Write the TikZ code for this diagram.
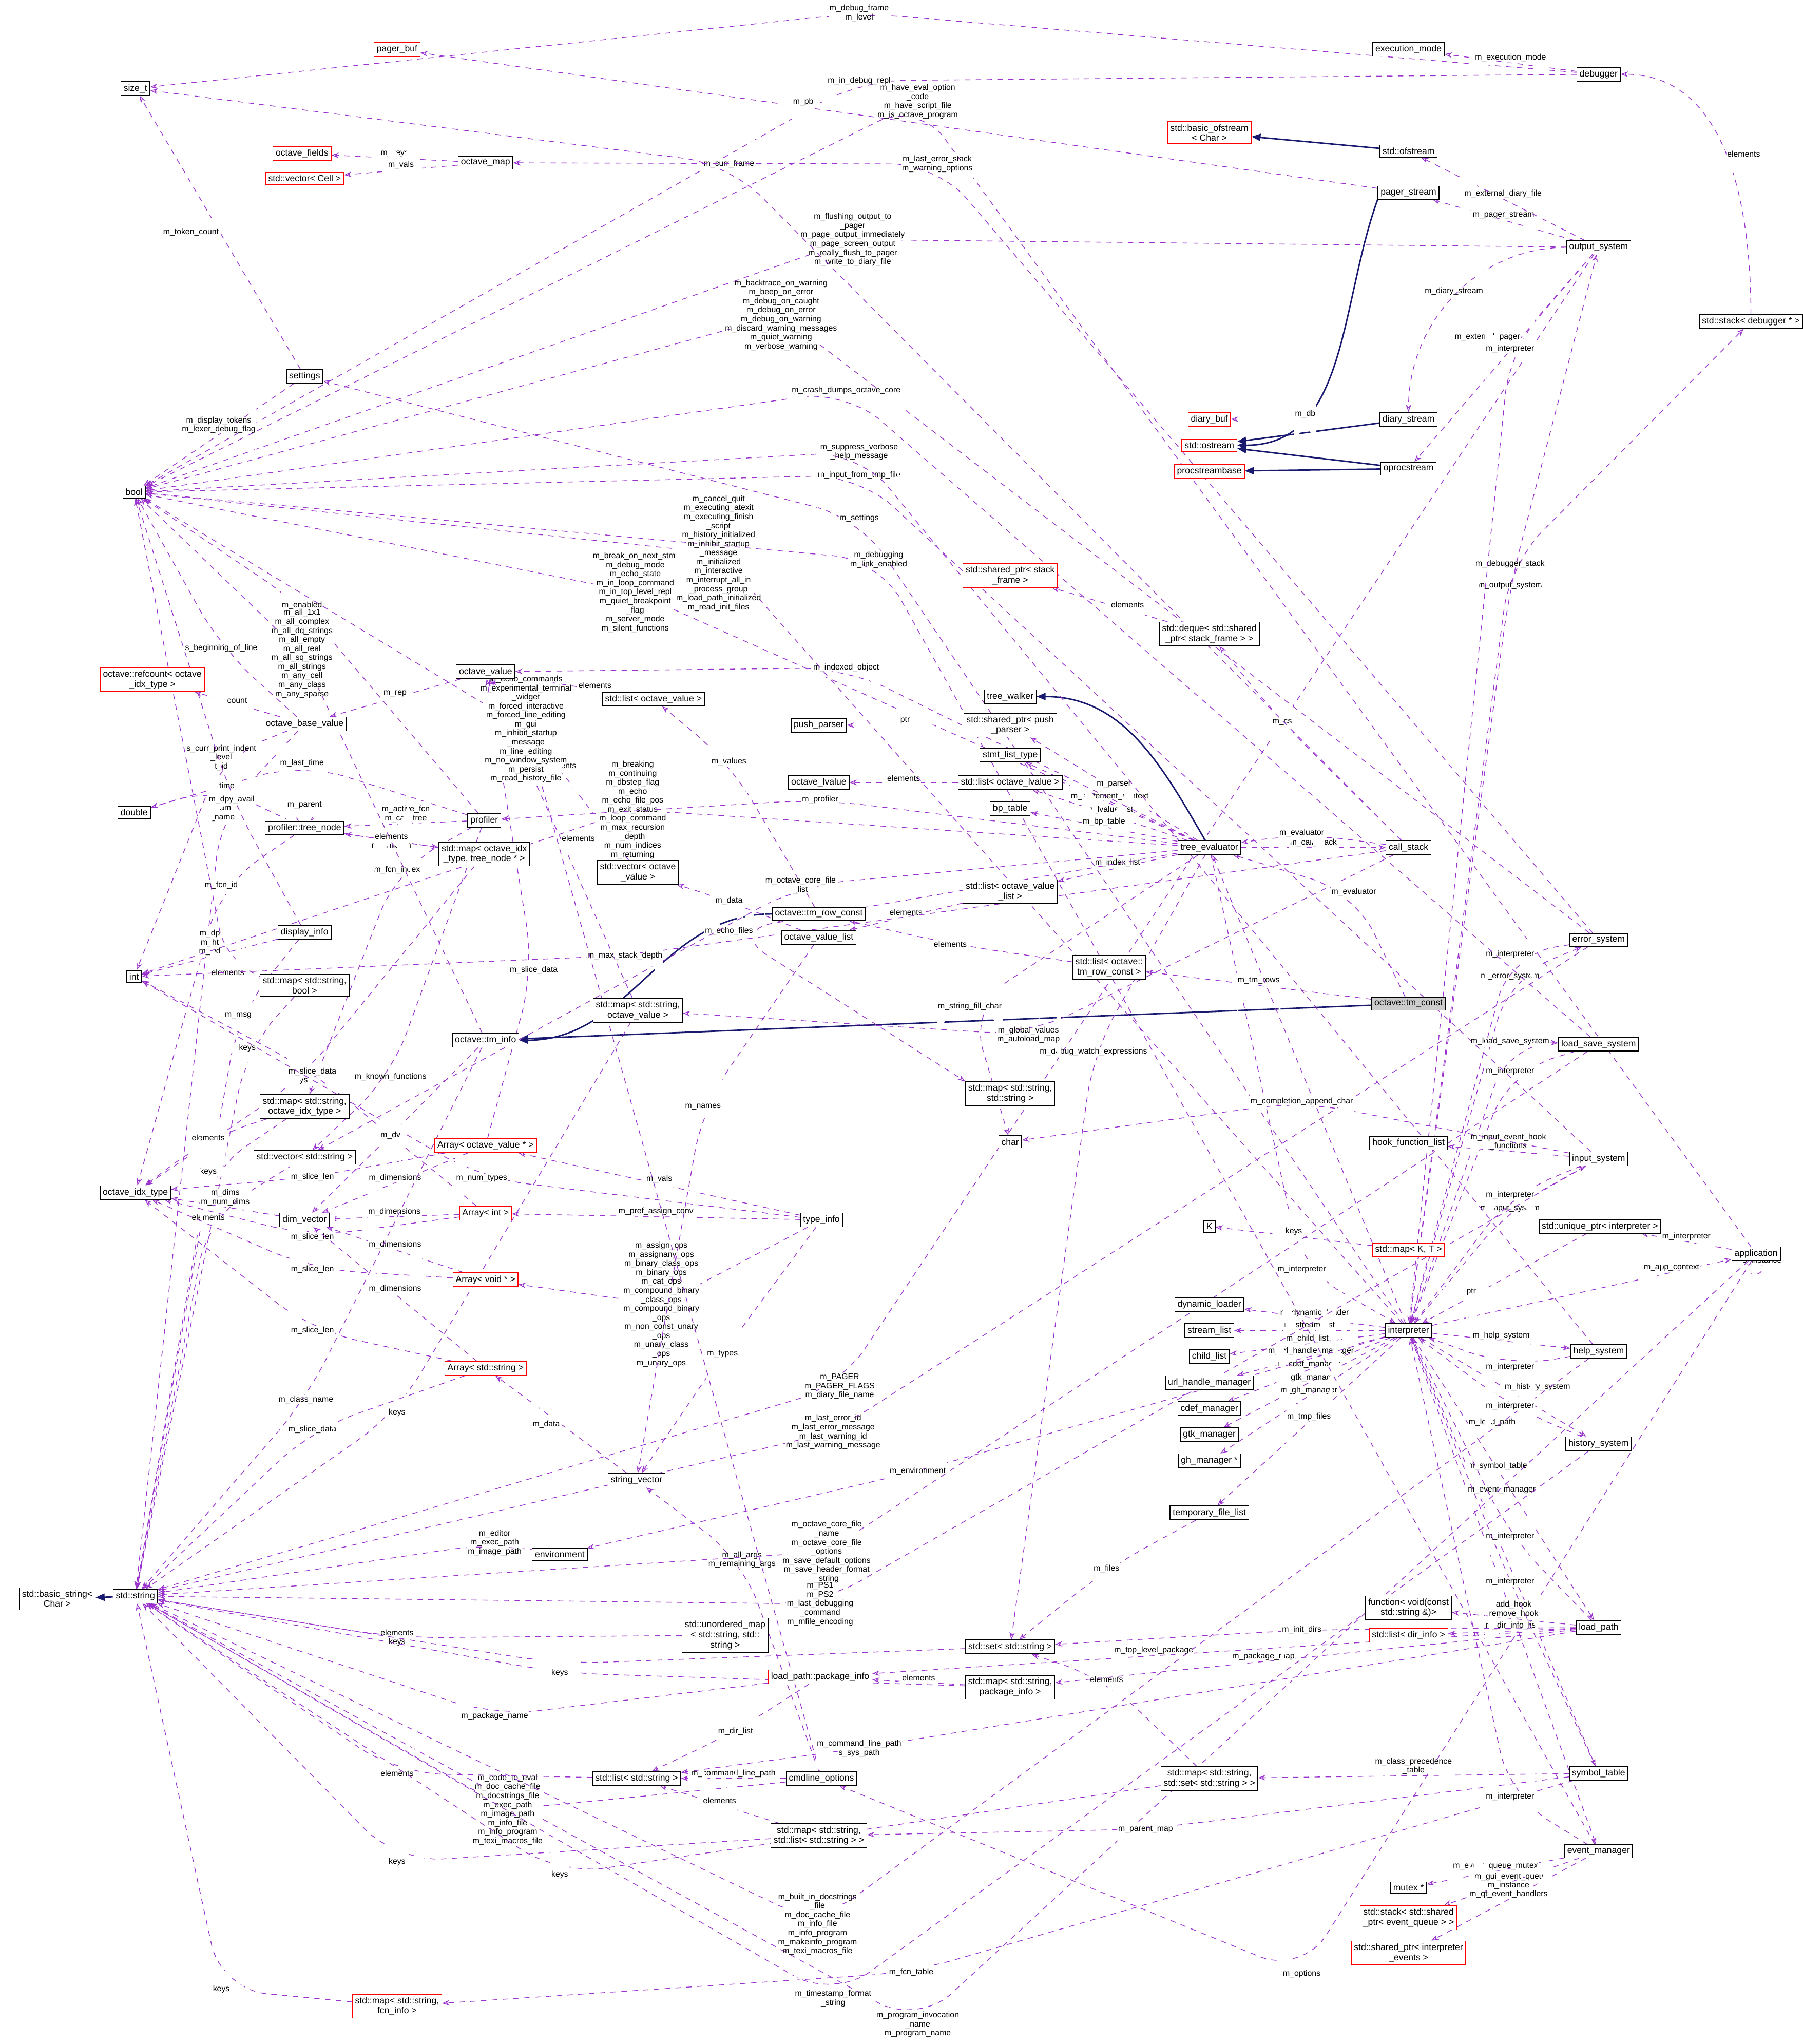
\documentclass[tikz,border=0pt]{standalone}
\usepackage{fontspec}
\setmainfont{Liberation Sans}
\usetikzlibrary{arrows.meta}
\pgfdeclarelayer{background}
\pgfsetlayers{background,main}
\definecolor{memcol}{RGB}{154,50,205}
\definecolor{inhcol}{RGB}{25,25,112}
\tikzset{
  cls/.style={draw=black, rectangle, inner sep=1.5pt, font=\fontsize{5}{5.6}\selectfont, align=center, fill=white},
  ucls/.style={cls, draw=red},
  mem/.style={draw=memcol, dashed, rounded corners=25pt, -{Stealth[open,length=4pt,width=3pt]}},
  inh/.style={draw=inhcol, thick, -{Triangle[length=5pt,width=4pt]}},
  lbl/.style={font=\fontsize{4.5}{5}\selectfont, align=center, inner sep=0.5pt, text=black, fill=white}
}
\begin{document}
\begin{tikzpicture}[x=0.02536cm, y=-0.02536cm]
\useasboundingbox (0,0) rectangle (1385,1570);

% left column
\node[cls] (sizet) at (104,68) {size\_t};
\node[cls] (bool) at (103,378) {bool};
\node[ucls] (refcount) at (117,522) {octave::refcount< octave\\\_idx\_type >};
\node[cls] (double) at (103,624) {double};
\node[cls] (int) at (103,750) {int};
\node[cls] (idxtype) at (104,916) {octave\_idx\_type};
\node[cls] (basicstr) at (44,1228) {std::basic\_string<\\Char >};
\node[cls] (string) at (104,1226) {std::string};

% second column
\node[ucls] (pagerbuf) at (305,38) {pager\_buf};
\node[ucls] (fields) at (232,118) {octave\_fields};
\node[ucls] (veccell) at (234,137) {std::vector< Cell >};
\node[cls] (settings) at (234,289) {settings};
\node[cls] (basevalue) at (234,556) {octave\_base\_value};
\node[cls] (treenode) at (234,636) {profiler::tree\_node};
\node[cls] (dispinfo) at (234,716) {display\_info};
\node[cls] (mapbool) at (234,757) {std::map< std::string,\\bool >};
\node[cls] (mapidx) at (234,850) {std::map< std::string,\\octave\_idx\_type >};
\node[cls] (vecstr) at (234,889) {std::vector< std::string >};
\node[cls] (dimvec) at (234,937) {dim\_vector};
\node[ucls] (mapfcn) at (305,1541) {std::map< std::string,\\fcn\_info >};

% third column
\node[cls] (octmap) at (373,125) {octave\_map};
\node[cls] (octval) at (373,516) {octave\_value};
\node[cls] (profiler) at (372,630) {profiler};
\node[cls] (mapnode) at (372,656) {std::map< octave\_idx\\\_type, tree\_node * >};
\node[cls] (tminfo) at (373,799) {octave::tm\_info};
\node[ucls] (arrval) at (373,880) {Array< octave\_value * >};
\node[ucls] (arrint) at (373,932) {Array< int >};
\node[ucls] (arrvoid) at (373,983) {Array< void * >};
\node[ucls] (arrstr) at (373,1051) {Array< std::string >};
\node[cls] (env) at (430,1194) {environment};

% fourth column
\node[cls] (listval) at (502,537) {std::list< octave\_value >};
\node[cls] (vecval) at (490,670) {std::vector< octave\\\_value >};
\node[cls] (mapval) at (490,776) {std::map< std::string,\\octave\_value >};
\node[cls] (strvec) at (489,1137) {string\_vector};
\node[cls] (umap) at (557,1256) {std::unordered\_map\\< std::string, std::\\string >};
\node[cls] (liststr) at (489,1366) {std::list< std::string >};

% fifth column
\node[cls] (pushparser) at (629,557) {push\_parser};
\node[cls] (lvalue) at (629,601) {octave\_lvalue};
\node[cls] (rowconst) at (629,702) {octave::tm\_row\_const};
\node[cls] (vallist) at (629,720) {octave\_value\_list};
\node[cls] (typeinfo) at (631,937) {type\_info};
\node[ucls] (pkginfo) at (630,1288) {load\_path::package\_info};
\node[cls] (cmdopts) at (631,1366) {cmdline\_options};
\node[cls] (maplist) at (629,1410) {std::map< std::string,\\std::list< std::string > >};

% sixth column
\node[ucls] (spframe) at (776,442) {std::shared\_ptr< stack\\\_frame >};
\node[cls] (walker) at (776,535) {tree\_walker};
\node[cls] (spparser) at (776,557) {std::shared\_ptr< push\\\_parser >};
\node[cls] (stmtlist) at (776,580) {stmt\_list\_type};
\node[cls] (listlval) at (776,601) {std::list< octave\_lvalue >};
\node[cls] (bptable) at (776,621) {bp\_table};
\node[cls] (listvallist) at (776,685) {std::list< octave\_value\\\_list >};
\node[cls] (maprowc) at (852,743) {std::list< octave::\\tm\_row\_const >};
\node[cls] (mapstr) at (776,840) {std::map< std::string,\\std::string >};
\node[cls] (char) at (776,877) {char};
\node[cls] (setstr) at (776,1265) {std::set< std::string >};
\node[cls] (mappkg) at (776,1296) {std::map< std::string,\\package\_info >};

% seventh column
\node[ucls] (bofstream) at (929,102) {std::basic\_ofstream\\< Char >};
\node[ucls] (diarybuf) at (929,322) {diary\_buf};
\node[ucls] (ostream) at (929,342) {std::ostream};
\node[ucls] (procbase) at (929,362) {procstreambase};
\node[cls] (deque) at (929,487) {std::deque< std::shared\\\_ptr< stack\_frame > >};
\node[cls] (evaluator) at (929,651) {tree\_evaluator};
\node[cls] (K) at (929,942) {K};
\node[cls] (dynload) at (929,1002) {dynamic\_loader};
\node[cls] (streamlist) at (929,1022) {stream\_list};
\node[cls] (childlist) at (929,1042) {child\_list};
\node[cls] (urlmgr) at (929,1062) {url\_handle\_manager};
\node[cls] (cdefmgr) at (929,1082) {cdef\_manager};
\node[cls] (gtkmgr) at (929,1102) {gtk\_manager};
\node[cls] (ghmgr) at (929,1122) {gh\_manager *};
\node[cls] (tmpfiles) at (929,1162) {temporary\_file\_list};
\node[cls] (mapset) at (929,1366) {std::map< std::string,\\std::set< std::string > >};

% eighth column
\node[cls] (execmode) at (1082,38) {execution\_mode};
\node[cls] (ofstream) at (1082,116) {std::ofstream};
\node[cls] (pagerstream) at (1082,148) {pager\_stream};
\node[cls] (diarystream) at (1082,322) {diary\_stream};
\node[cls] (oproc) at (1082,360) {oprocstream};
\node[cls] (callstack) at (1082,651) {call\_stack};
\node[cls, fill=gray!40] (tmconst) at (1082,771) {octave::tm\_const};
\node[cls] (hooklist) at (1082,878) {hook\_function\_list};
\node[ucls] (mapKT) at (1082,960) {std::map< K, T >};
\node[cls] (interp) at (1082,1022) {interpreter};
\node[cls] (func) at (1082,1235) {function< void(const\\std::string \&)>};
\node[ucls] (listdir) at (1082,1256) {std::list< dir\_info >};
\node[cls] (mutex) at (1082,1450) {mutex *};
\node[ucls] (stackev) at (1082,1473) {std::stack< std::shared\\\_ptr< event\_queue > >};
\node[ucls] (spev) at (1082,1500) {std::shared\_ptr< interpreter\\\_events >};

% right columns
\node[cls] (debugger) at (1228,57) {debugger};
\node[cls] (output) at (1228,190) {output\_system};
\node[cls] (errsys) at (1228,722) {error\_system};
\node[cls] (lssys) at (1228,802) {load\_save\_system};
\node[cls] (input) at (1228,890) {input\_system};
\node[cls] (uptr) at (1229,942) {std::unique\_ptr< interpreter >};
\node[cls] (help) at (1228,1038) {help\_system};
\node[cls] (history) at (1228,1109) {history\_system};
\node[cls] (loadpath) at (1228,1250) {load\_path};
\node[cls] (symtab) at (1228,1362) {symbol\_table};
\node[cls] (evmgr) at (1228,1422) {event\_manager};
\node[cls] (stackdbg) at (1345,247) {std::stack< debugger * >};
\node[cls] (app) at (1349,963) {application};

\begin{pgfonlayer}{background}
\fill[white] (0,0) rectangle (1385,1570);
% inheritance
\draw[inh] (string) -- (basicstr);
\draw[inh] (ofstream) -- (bofstream);
\draw[inh] (pagerstream.south west) to[out=-110,in=0] (ostream);
\draw[inh] (diarystream) -- (ostream);
\draw[inh] (oproc) -- (ostream);
\draw[inh] (oproc) -- (procbase);
\draw[inh] (evaluator) to[out=120,in=0] (walker);
\draw[inh] (rowconst) to[out=180,in=0] (tminfo);
\draw[inh] (tmconst) -- (tminfo);

% members
\draw[mem] (debugger) -- (660,10) node[lbl]{m\_debug\_frame\\m\_level} -- (sizet);
\draw[mem] (debugger) -- node[lbl, above]{m\_execution\_mode} (execmode);
\draw[mem] (debugger) -- (660,62) node[lbl]{m\_in\_debug\_repl} -- (bool);
\draw[mem] (stackdbg) to[out=90,in=0] node[lbl, right]{elements} (debugger);
\draw[mem] (pagerstream) -- node[lbl, above, pos=0.6]{m\_pb} (pagerbuf);
\draw[mem] (output) -- node[lbl, above]{m\_pager\_stream} (pagerstream);
\draw[mem] (output) -- node[lbl, above]{m\_external\_diary\_file} (ofstream);
\draw[mem] (output) to[out=180,in=90] node[lbl, above]{m\_diary\_stream} (diarystream);
\draw[mem] (output) -- node[lbl, left, pos=0.4]{m\_external\_pager} (oproc);
\draw[mem] (output) -- (655,184) node[lbl]{m\_flushing\_output\_to\\\_pager\\m\_page\_output\_immediately\\m\_page\_screen\_output\\m\_really\_flush\_to\_pager\\m\_write\_to\_diary\_file} -- (bool);
\draw[mem] (output) -- (645,1065) node[lbl]{m\_PAGER\\m\_PAGER\_FLAGS\\m\_diary\_file\_name} -- (string);
\draw[mem] (diarystream) -- node[lbl, above]{m\_db} (diarybuf);
\draw[mem] (octmap) -- node[lbl, above]{m\_keys} (fields);
\draw[mem] (octmap) -- node[lbl, above]{m\_vals} (veccell);
\draw[mem] (settings) -- node[lbl, left]{m\_token\_count} (sizet);
\draw[mem] (settings) -- node[lbl, above]{m\_display\_tokens\\m\_lexer\_debug\_flag} (bool);
\draw[mem] (octval) -- node[lbl, above]{m\_rep} (basevalue);
\draw[mem] (basevalue) -- node[lbl, above]{count} (refcount);
\draw[mem] (basevalue) -- (170,498) node[lbl]{s\_beginning\_of\_line} -- (bool);
\draw[mem] (basevalue) -- (170,582) node[lbl]{s\_curr\_print\_indent\\\_level\\t\_id} -- (int);
\draw[mem] (basevalue) -- (170,625) node[lbl]{c\_name\\t\_name} -- (string);
\draw[mem] (listval) -- node[lbl, above, pos=0.15]{elements} (octval);
\draw[mem] (vecval) -- node[lbl, above]{elements} (octval);
\draw[mem] (profiler) -- (232,465) node[lbl]{m\_enabled} -- (bool);
\draw[mem] (profiler) -- (232,586) node[lbl]{m\_last\_time} -- (double);
\draw[mem] (profiler) -- node[lbl, above]{m\_active\_fcn\\m\_call\_tree} (treenode);
\draw[mem] (profiler) -- (305,668) node[lbl]{m\_fcn\_index} -- (mapidx);
\draw[mem] (profiler) -- (300,827) node[lbl]{m\_known\_functions} -- (vecstr);
\draw[mem] (treenode) -- (170,604) node[lbl]{m\_time} -- (double);
\draw[mem] (treenode) to[out=130,in=50,looseness=4] node[lbl, above]{m\_parent} (treenode);
\draw[mem] (treenode) -- node[lbl, below]{m\_children} (mapnode);
\draw[mem] (treenode) -- (170,680) node[lbl]{m\_fcn\_id} -- (idxtype);
\draw[mem] (mapnode) -- node[lbl, above]{elements} (treenode);
\draw[mem] (mapnode) -- (230,830) node[lbl]{keys} -- (idxtype);
\draw[mem] (dispinfo) -- node[lbl, above]{m\_dp\\m\_ht\\m\_wd} (int);
\draw[mem] (dispinfo) -- (178,614) node[lbl]{m\_dpy\_avail} -- (bool);
\draw[mem] (dispinfo) -- (183,780) node[lbl]{m\_msg} -- (string);
\draw[mem] (mapbool) -- (175,747) node[lbl]{elements} -- (bool);
\draw[mem] (mapbool) -- (190,805) node[lbl]{keys} -- (string);
\draw[mem] (mapval) -- node[lbl, right]{elements} (octval);
\draw[mem] (mapval) -- (305,1085) node[lbl]{keys} -- (string);
\draw[mem] (mapidx) -- (160,874) node[lbl]{elements} -- (idxtype);
\draw[mem] (mapidx) -- (160,900) node[lbl]{keys} -- (string);
\draw[mem] (vecstr) -- (160,935) node[lbl]{elements} -- (string);
\draw[mem] (dimvec) -- node[lbl, above]{m\_dims\\m\_num\_dims} (idxtype);
\draw[mem] (arrval) -- node[lbl, above]{m\_dimensions} (dimvec);
\draw[mem] (arrval) -- (240,904) node[lbl]{m\_slice\_len} -- (idxtype);
\draw[mem] (arrval) -- (410,745) node[lbl]{m\_slice\_data} -- (octval);
\draw[mem] (arrint) -- node[lbl, above]{m\_dimensions} (dimvec);
\draw[mem] (arrint) -- (240,950) node[lbl]{m\_slice\_len} -- (idxtype);
\draw[mem] (arrint) -- (240,823) node[lbl]{m\_slice\_data} -- (int);
\draw[mem] (arrvoid) -- node[lbl, above]{m\_dimensions} (dimvec);
\draw[mem] (arrvoid) -- (240,975) node[lbl]{m\_slice\_len} -- (idxtype);
\draw[mem] (arrstr) -- node[lbl, above]{m\_dimensions} (dimvec);
\draw[mem] (arrstr) -- (240,1022) node[lbl]{m\_slice\_len} -- (idxtype);
\draw[mem] (arrstr) -- (240,1098) node[lbl]{m\_slice\_data} -- (string);
\draw[mem] (strvec) -- node[lbl, left]{m\_data} (arrstr);
\draw[mem] (typeinfo) -- node[lbl, above]{m\_vals} (arrval);
\draw[mem] (typeinfo) -- node[lbl, above]{m\_pref\_assign\_conv} (arrint);
\draw[mem] (typeinfo) -- (508,1002) node[lbl]{m\_assign\_ops\\m\_assignany\_ops\\m\_binary\_class\_ops\\m\_binary\_ops\\m\_cat\_ops\\m\_compound\_binary\\\_class\_ops\\m\_compound\_binary\\\_ops\\m\_non\_const\_unary\\\_ops\\m\_unary\_class\\\_ops\\m\_unary\_ops} -- (arrvoid);
\draw[mem] (typeinfo) -- (370,905) node[lbl]{m\_num\_types} -- (int);
\draw[mem] (typeinfo) -- (555,1040) node[lbl]{m\_types} -- (strvec);
\draw[mem] (tminfo) -- (300,872) node[lbl]{m\_dv} -- (dimvec);
\draw[mem] (tminfo) -- (232,502) node[lbl]{m\_all\_1x1\\m\_all\_complex\\m\_all\_dq\_strings\\m\_all\_empty\\m\_all\_real\\m\_all\_sq\_strings\\m\_all\_strings\\m\_any\_cell\\m\_any\_class\\m\_any\_sparse} -- (bool);
\draw[mem] (tminfo) -- (235,1075) node[lbl]{m\_class\_name} -- (string);
\draw[mem] (rowconst) -- (560,585) node[lbl]{m\_values} -- (listval);
\draw[mem] (vallist) -- (560,692) node[lbl]{m\_data} -- (vecval);
\draw[mem] (vallist) -- (540,850) node[lbl]{m\_names} -- (strvec);
\draw[mem] (listvallist) -- node[lbl, above]{elements} (vallist);
\draw[mem] (maprowc) -- (730,725) node[lbl]{elements} -- (rowconst);
\draw[mem] (evaluator) -- (486,622) node[lbl]{m\_breaking\\m\_continuing\\m\_dbstep\_flag\\m\_echo\\m\_echo\_file\_pos\\m\_exit\_status\\m\_loop\_command\\m\_max\_recursion\\\_depth\\m\_num\_indices\\m\_returning} -- (int);
\draw[mem] (evaluator) -- (488,455) node[lbl]{m\_break\_on\_next\_stmt\\m\_debug\_mode\\m\_echo\_state\\m\_in\_loop\_command\\m\_in\_top\_level\_repl\\m\_quiet\_breakpoint\\\_flag\\m\_server\_mode\\m\_silent\_functions} -- (bool);
\draw[mem] (evaluator) -- node[lbl, above]{m\_parser} (spparser);
\draw[mem] (spparser) -- node[lbl, above]{ptr} (pushparser);
\draw[mem] (evaluator) -- node[lbl, above]{m\_statement\_context} (stmtlist);
\draw[mem] (evaluator) -- node[lbl, above]{m\_lvalue\_list} (listlval);
\draw[mem] (listlval) -- node[lbl, above]{elements} (lvalue);
\draw[mem] (evaluator) -- node[lbl, above]{m\_bp\_table} (bptable);
\draw[mem] (evaluator) -- (630,614) node[lbl]{m\_profiler} -- (profiler);
\draw[mem] (evaluator) -- node[lbl, above]{m\_index\_list} (listvallist);
\draw[mem] (evaluator) -- (650,513) node[lbl]{m\_indexed\_object} -- (octval);
\draw[mem] (evaluator) -- node[lbl, above]{m\_call\_stack} (callstack);
\draw[mem] (evaluator) -- (560,715) node[lbl]{m\_echo\_files} -- (mapstr.north west);
\draw[mem] (evaluator) -- (745,773) node[lbl]{m\_string\_fill\_char} -- (char);
\draw[mem] (evaluator) -- (840,808) node[lbl]{m\_debug\_watch\_expressions} -- (setstr);
\draw[mem] (evaluator) -- (1000,975) node[lbl]{m\_interpreter} -- (interp);
\draw[mem] (evaluator) -- (615,680) node[lbl]{m\_octave\_core\_file\\\_list} -- (vecstr);
\draw[mem] (callstack) -- (1000,640) node[lbl]{m\_evaluator} -- (evaluator);
\draw[mem] (callstack) -- (985,555) node[lbl]{m\_cs} -- (deque);
\draw[mem] (callstack) -- (790,795) node[lbl]{m\_global\_values\\m\_autoload\_map} -- (mapval);
\draw[mem] (callstack) -- (480,734) node[lbl]{m\_max\_stack\_depth} -- (int);
\draw[mem] (callstack) -- (560,126) node[lbl]{m\_curr\_frame} -- (sizet);
\draw[mem] (deque) -- node[lbl, right]{elements} (spframe);
\draw[mem] (tmconst) -- (1040,685) node[lbl]{m\_evaluator} -- (evaluator);
\draw[mem] (tmconst) -- node[lbl, above]{m\_tm\_rows} (maprowc);
\draw[mem] (mapKT) -- node[lbl, above]{keys} (K);
\draw[mem] (interp) -- node[lbl, above]{m\_dynamic\_loader} (dynload);
\draw[mem] (interp) -- node[lbl, above]{m\_stream\_list} (streamlist);
\draw[mem] (interp) -- node[lbl, above]{m\_child\_list} (childlist);
\draw[mem] (interp) -- node[lbl, above]{m\_url\_handle\_manager} (urlmgr);
\draw[mem] (interp) -- node[lbl, above]{m\_cdef\_manager} (cdefmgr);
\draw[mem] (interp) -- node[lbl, above]{m\_gtk\_manager} (gtkmgr);
\draw[mem] (interp) -- node[lbl, above]{m\_gh\_manager} (ghmgr);
\draw[mem] (interp) -- node[lbl, above]{m\_tmp\_files} (tmpfiles);
\draw[mem] (interp) -- (evaluator);
\draw[mem] (interp) -- (705,1130) node[lbl]{m\_environment} -- (env);
\draw[mem] (interp) -- (660,398) node[lbl]{m\_settings} -- (settings);
\draw[mem] (interp) -- (552,425) node[lbl]{m\_cancel\_quit\\m\_executing\_atexit\\m\_executing\_finish\\\_script\\m\_history\_initialized\\m\_inhibit\_startup\\\_message\\m\_initialized\\m\_interactive\\m\_interrupt\_all\_in\\\_process\_group\\m\_load\_path\_initialized\\m\_read\_init\_files} -- (bool);
\draw[mem] (interp) -- node[lbl, right, pos=0.3]{m\_load\_path} (loadpath);
\draw[mem] (interp) -- node[lbl, right, pos=0.3]{m\_symbol\_table} (symtab);
\draw[mem] (interp) -- node[lbl, right, pos=0.3]{m\_event\_manager} (evmgr);
\draw[mem] (interp) -- node[lbl, above, pos=0.5]{m\_help\_system} (help);
\draw[mem] (interp) -- node[lbl, right, pos=0.5]{m\_history\_system} (history);
\draw[mem] (interp) -- (1160,928) node[lbl]{m\_input\_system} -- (input);
\draw[mem] (interp) -- (1160,450) node[lbl]{m\_output\_system} -- (output);
\draw[mem] (interp) -- (1160,750) node[lbl]{m\_error\_system} -- (errsys);
\draw[mem] (interp) -- (1160,800) node[lbl]{m\_load\_save\_system} -- (lssys);
\draw[mem] (interp) -- node[lbl, above, pos=0.8]{m\_app\_context} (app);
\draw[mem] (interp) -- (1160,433) node[lbl]{m\_debugger\_stack} -- (stackdbg);
\draw[mem] (uptr) -- node[lbl, above, pos=0.7]{ptr} (interp);
\draw[mem] (app) -- node[lbl, above]{m\_interpreter} (uptr);
\draw[mem] (app) to[out=-60,in=-120,looseness=6] node[lbl, above, pos=0.1]{s\_instance} (app);
\draw[mem] (app) -- (1000,1516) node[lbl]{m\_options} -- (cmdopts);
\draw[mem] (app) -- (705,1555) node[lbl]{m\_program\_invocation\\\_name\\m\_program\_name} -- (string);
\draw[mem] (app) -- (705,78) node[lbl]{m\_have\_eval\_option\\\_code\\m\_have\_script\_file\\m\_is\_octave\_program} -- (bool);
\draw[mem] (cmdopts) -- (570,1198) node[lbl]{m\_all\_args\\m\_remaining\_args} -- (strvec);
\draw[mem] (cmdopts) -- node[lbl, above]{m\_command\_line\_path} (liststr);
\draw[mem] (cmdopts) -- (390,1390) node[lbl]{m\_code\_to\_eval\\m\_doc\_cache\_file\\m\_docstrings\_file\\m\_exec\_path\\m\_image\_path\\m\_info\_file\\m\_info\_program\\m\_texi\_macros\_file} -- (string);
\draw[mem] (cmdopts) -- (404,560) node[lbl]{m\_echo\_commands\\m\_experimental\_terminal\\\_widget\\m\_forced\_interactive\\m\_forced\_line\_editing\\m\_gui\\m\_inhibit\_startup\\\_message\\m\_line\_editing\\m\_no\_window\_system\\m\_persist\\m\_read\_history\_file} -- (bool);
\draw[mem] (env) -- (380,1185) node[lbl]{m\_editor\\m\_exec\_path\\m\_image\_path} -- (string);
\draw[mem] (umap) -- (305,1258) node[lbl]{elements\\keys} -- (string);
\draw[mem] (setstr) -- (430,1278) node[lbl]{keys} -- (string);
\draw[mem] (liststr) -- (305,1362) node[lbl]{elements} -- (string);
\draw[mem] (maplist) -- node[lbl, above]{elements} (liststr);
\draw[mem] (maplist) -- (305,1430) node[lbl]{keys} -- (string);
\draw[mem] (mapfcn) -- (170,1528) node[lbl]{keys} -- (string);
\draw[mem] (pkginfo) -- (380,1318) node[lbl]{m\_package\_name} -- (string);
\draw[mem] (pkginfo) -- (565,1330) node[lbl]{m\_dir\_list} -- (liststr);
\draw[mem] (mappkg) -- node[lbl, above]{elements} (pkginfo);
\draw[mem] (mappkg) -- (430,1285) node[lbl]{keys} -- (string);
\draw[mem] (mapset) -- (850,1290) node[lbl]{elements} -- (setstr);
\draw[mem] (mapset) -- (430,1440) node[lbl]{keys} -- (string);
\draw[mem] (tmpfiles) -- (850,1205) node[lbl]{m\_files} -- (setstr);
\draw[mem] (loadpath) -- node[lbl, above, pos=0.6]{m\_package\_map} (mappkg);
\draw[mem] (loadpath) -- node[lbl, above, pos=0.6]{m\_top\_level\_package} (pkginfo);
\draw[mem] (loadpath) -- node[lbl, above]{m\_dir\_info\_list} (listdir);
\draw[mem] (loadpath) -- node[lbl, above]{add\_hook\\remove\_hook} (func);
\draw[mem] (loadpath) -- (1000,1252) node[lbl]{m\_init\_dirs} -- (setstr);
\draw[mem] (loadpath) -- (1160,1180) node[lbl]{m\_interpreter} -- (interp);
\draw[mem] (loadpath) -- (660,1343) node[lbl]{m\_command\_line\_path\\s\_sys\_path} -- (liststr);
\draw[mem] (symtab) -- (1160,1215) node[lbl]{m\_interpreter} -- (interp);
\draw[mem] (symtab) -- node[lbl, above]{m\_class\_precedence\\\_table} (mapset);
\draw[mem] (symtab) -- (880,1405) node[lbl]{m\_parent\_map} -- (maplist);
\draw[mem] (symtab) -- (700,1515) node[lbl]{m\_fcn\_table} -- (mapfcn);
\draw[mem] (evmgr) -- (1160,1380) node[lbl]{m\_interpreter} -- (interp);
\draw[mem] (evmgr) -- node[lbl, above]{m\_event\_queue\_mutex} (mutex);
\draw[mem] (evmgr) -- node[lbl, above]{m\_gui\_event\_queue} (stackev);
\draw[mem] (evmgr) -- node[lbl, above]{m\_instance\\m\_qt\_event\_handlers} (spev);
\draw[mem] (evmgr) -- (675,430) node[lbl]{m\_debugging\\m\_link\_enabled} -- (bool);
\draw[mem] (errsys) -- (1160,733) node[lbl]{m\_interpreter} -- (interp);
\draw[mem] (errsys) -- (600,242) node[lbl]{m\_backtrace\_on\_warning\\m\_beep\_on\_error\\m\_debug\_on\_caught\\m\_debug\_on\_error\\m\_debug\_on\_warning\\m\_discard\_warning\_messages\\m\_quiet\_warning\\m\_verbose\_warning} -- (bool);
\draw[mem] (errsys) -- (640,1100) node[lbl]{m\_last\_error\_id\\m\_last\_error\_message\\m\_last\_warning\_id\\m\_last\_warning\_message} -- (string);
\draw[mem] (errsys) -- (720,126) node[lbl]{m\_last\_error\_stack\\m\_warning\_options} -- (octmap);
\draw[mem] (lssys) -- (1160,823) node[lbl]{m\_interpreter} -- (interp);
\draw[mem] (lssys) -- (650,300) node[lbl]{m\_crash\_dumps\_octave\_core} -- (bool);
\draw[mem] (lssys) -- (635,1192) node[lbl]{m\_octave\_core\_file\\\_name\\m\_octave\_core\_file\\\_options\\m\_save\_default\_options\\m\_save\_header\_format\\\_string} -- (string);
\draw[mem] (input) -- (1160,918) node[lbl]{m\_interpreter} -- (interp);
\draw[mem] (input) -- node[lbl, above]{m\_input\_event\_hook\\\_functions} (hooklist);
\draw[mem] (input) -- (1000,846) node[lbl]{m\_completion\_append\_char} -- (char);
\draw[mem] (input) -- (630,1232) node[lbl]{m\_PS1\\m\_PS2\\m\_last\_debugging\\\_command\\m\_mfile\_encoding} -- (string);
\draw[mem] (input) -- (660,365) node[lbl]{m\_input\_from\_tmp\_file} -- (bool);
\draw[mem] (help) -- (1160,1050) node[lbl]{m\_interpreter} -- (interp);
\draw[mem] (help) -- (628,1478) node[lbl]{m\_built\_in\_docstrings\\\_file\\m\_doc\_cache\_file\\m\_info\_file\\m\_info\_program\\m\_makeinfo\_program\\m\_texi\_macros\_file} -- (string);
\draw[mem] (help) -- (660,347) node[lbl]{m\_suppress\_verbose\\\_help\_message} -- (bool);
\draw[mem] (history) -- (1160,1080) node[lbl]{m\_interpreter} -- (interp);
\draw[mem] (history) -- (640,1535) node[lbl]{m\_timestamp\_format\\\_string} -- (string);
\draw[mem] (output) -- (1160,268) node[lbl]{m\_interpreter} -- (interp);
\end{pgfonlayer}
\end{tikzpicture}
\end{document}
